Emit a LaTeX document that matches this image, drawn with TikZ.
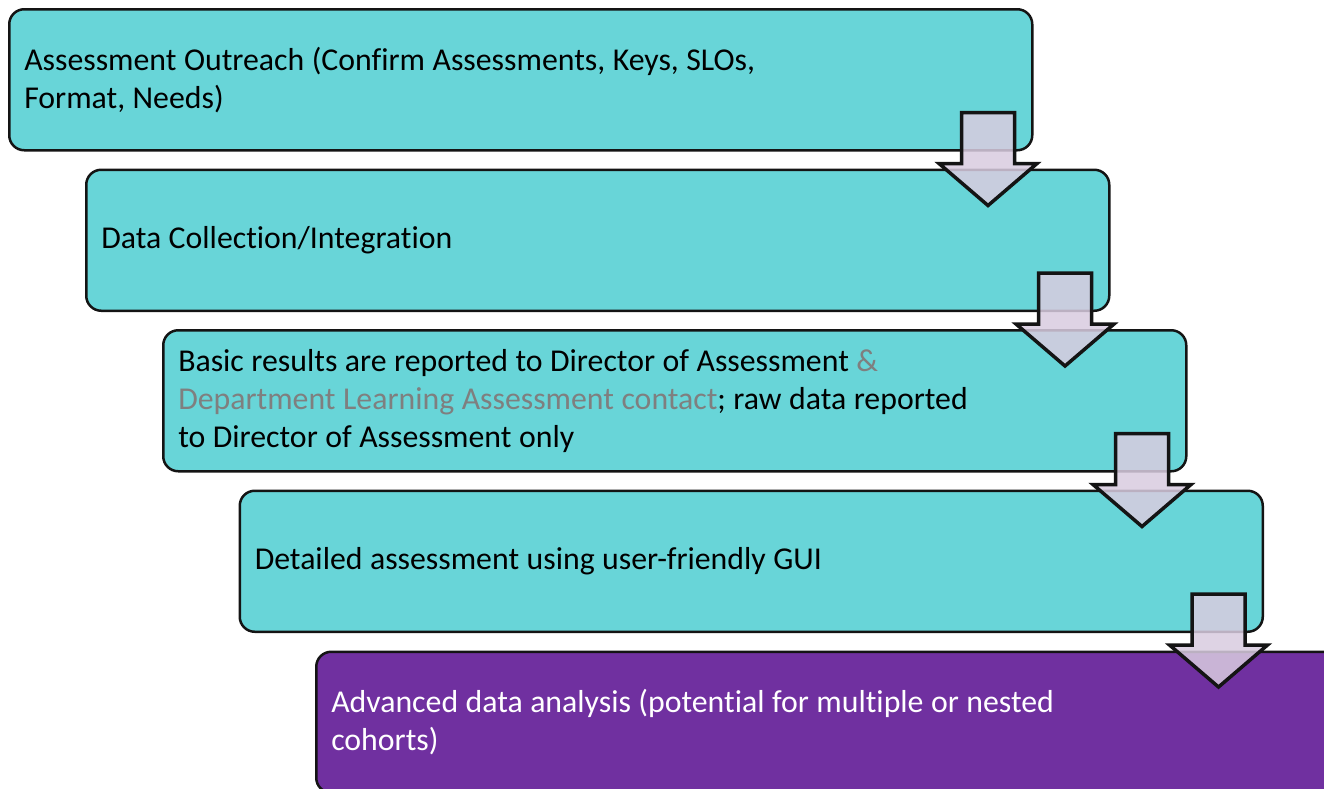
\documentclass[tikz,border=0pt]{standalone}
\usepackage{fontspec}
\setmainfont[Ligatures=NoCommon]{Carlito}
\usetikzlibrary{calc}
\definecolor{tealbox}{HTML}{68D5D8}
\definecolor{purplebox}{HTML}{7030A0}
\definecolor{greytext}{HTML}{7F7F7F}
\definecolor{arrowfill}{HTML}{D9CCE0}
\definecolor{edge}{HTML}{141414}
\newcommand{\stagefont}{\fontsize{31.8}{38}\selectfont}
\newcommand{\tightsp}{\spaceskip=\dimexpr\fontdimen2\font+0.3pt\relax plus 1pt minus 1pt\relax\xspaceskip=\spaceskip}
\tikzset{
  stagebox/.style={draw=edge, line width=2.5pt, rounded corners=15pt,
    minimum width=1023pt, minimum height=141pt, text width=993pt,
    inner xsep=15pt, inner ysep=0pt, align=left,
    font=\stagefont, anchor=north west},
  tealstage/.style={stagebox, fill=tealbox, text=black},
  purplestage/.style={stagebox, fill=purplebox, text=white},
  arrowstyle/.style={draw=edge, line width=3.5pt, fill=arrowfill, fill opacity=0.85, miter limit=10},
  downarrow/.pic={\path[arrowstyle] (-26.5,0) -- (26.5,0) -- (26.5,51) -- (49,51) -- (0,93) -- (-49,51) -- (-26.5,51) -- cycle;}
}
\begin{document}
\begin{tikzpicture}[x=1pt,y=-1pt]
\useasboundingbox (0,0) rectangle (1324,788);
\clip (0,0) rectangle (1324,788);
\fill[white] (0,0) rectangle (1324,788);
\node[tealstage] (b1) at (8,8) {\tightsp Assessment Outreach (Confirm Assessments, Keys, SLOs,\\Format, Needs)};
\node[tealstage] (b2) at (85,168.5) {\tightsp Data Collection/Integration};
\node[tealstage] (b3) at (162,329) {\tightsp Basic results are reported to Director of Assessment {\color{greytext}\&}\\{\color{greytext}Department Learning Assessment contact}; raw data reported\\to Director of Assessment only};
\node[tealstage] (b4) at (238.5,489.5) {\tightsp Detailed assessment using user-friendly GUI};
\node[purplestage] (b5) at (315,650.5) {\tightsp Advanced data analysis (potential for multiple or nested\\cohorts)};
\pic at ($(b1.south east)+(-45.5,-39)$) {downarrow};
\pic at ($(b2.south east)+(-45.5,-39)$) {downarrow};
\pic at ($(b3.south east)+(-45.5,-39)$) {downarrow};
\pic at ($(b4.south east)+(-45.5,-39)$) {downarrow};
\end{tikzpicture}
\end{document}
